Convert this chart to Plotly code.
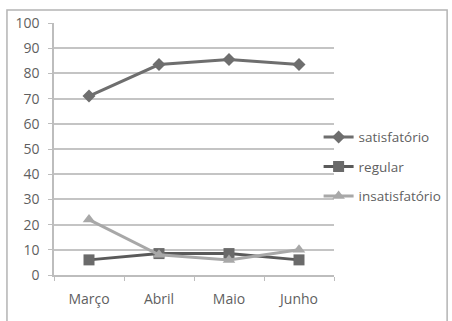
import plotly.graph_objects as go

meses = ["Março", "Abril", "Maio", "Junho"]
satisfatorio = [71, 83.5, 85.5, 83.5]
regular = [6, 8.5, 8.5, 6]
insatisfatorio = [22, 8, 6, 10]
y_ticks = [0, 10, 20, 30, 40, 50, 60, 70, 80, 90, 100]

FONT = "Open Sans"
TXT = "#5f5f5f"

fig = go.Figure()
fig.add_trace(go.Scatter(
    x=meses, y=satisfatorio, name="satisfatório", mode="lines+markers",
    legendgroup="s",
    line=dict(color="#6e6e6e", width=3),
    marker=dict(symbol="diamond", size=10, color="#6e6e6e"),
))
fig.add_trace(go.Scatter(
    x=meses, y=regular, name="regular", mode="lines+markers",
    legendgroup="r",
    line=dict(color="#5a5a5a", width=3),
    marker=dict(symbol="square", size=11, color="#6a6a6a"),
))
fig.add_trace(go.Scatter(
    x=meses, y=insatisfatorio, name="insatisfatório", mode="lines+markers",
    legendgroup="i",
    line=dict(color="#a8a8a8", width=3),
    marker=dict(symbol="triangle-up", size=11, color="#a8a8a8"),
))

# outer chart frame
fig.add_shape(type="rect", xref="paper", yref="paper",
              x0=-0.168, x1=1.404, y0=-0.5, y1=1.052,
              line=dict(color="#b4b4b4", width=1.5), layer="below")

fig.update_layout(
    width=452, height=321,
    margin=dict(l=54, r=118, t=23, b=46, autoexpand=False),
    paper_bgcolor="white", plot_bgcolor="white",
    font=dict(family=FONT, size=14, color=TXT),
    showlegend=True,
    legend=dict(x=0.945, y=0.43, xanchor="left", yanchor="middle",
                font=dict(family=FONT, size=13.5, color=TXT),
                bgcolor="rgba(0,0,0,0)", tracegroupgap=9, itemwidth=30),
    xaxis=dict(range=[-0.5, 3.5], showgrid=False, showline=True,
               linecolor="#bdbdbd", linewidth=1.5,
               ticks="outside", ticklen=4, tickcolor="#bdbdbd",
               tickson="boundaries", ticklabelstandoff=10,
               tickfont=dict(family=FONT, size=14, color=TXT)),
    yaxis=dict(range=[0, 100], tickvals=y_ticks, showgrid=True,
               gridcolor="#c4c4c4", gridwidth=1.5, zeroline=False,
               showline=True, linecolor="#bdbdbd", linewidth=1.5,
               ticks="outside", ticklen=4, tickcolor="#bdbdbd",
               ticklabelstandoff=6,
               tickfont=dict(family=FONT, size=14, color=TXT)),
)

fig.write_html("out.html")
